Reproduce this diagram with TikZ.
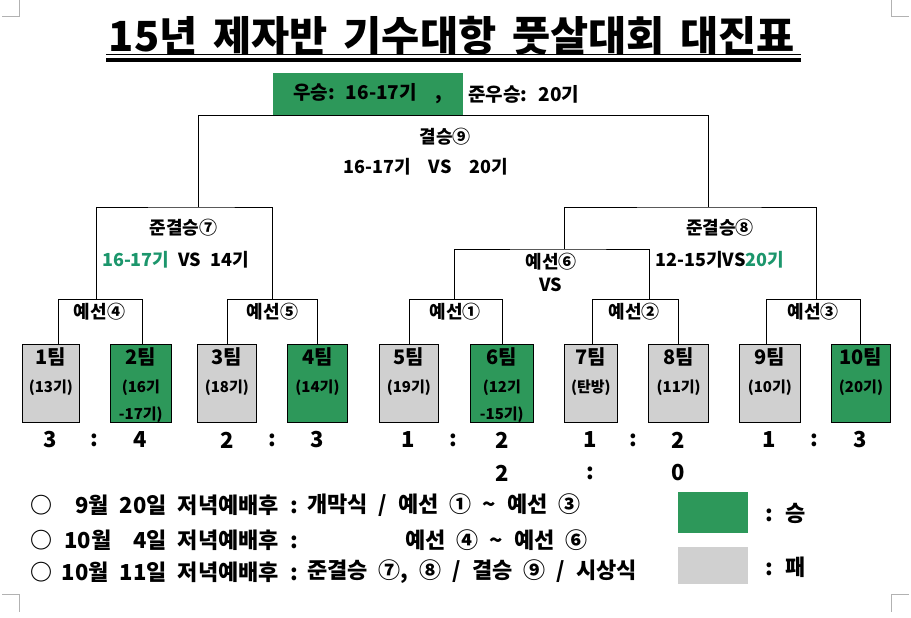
\documentclass[tikz,border=0pt]{standalone}
\usepackage{fontspec}
\setmainfont{Noto Sans CJK KR}
\usetikzlibrary{positioning,calc}
\definecolor{wingreen}{RGB}{45,152,90}
\definecolor{losegray}{RGB}{208,208,208}
\definecolor{tealtext}{RGB}{28,150,108}
\newcommand{\fsz}[1]{\fontsize{#1}{#1}\selectfont\bfseries\spaceskip=.5em\relax}
\tikzset{
  team/.style={draw=black, line width=1pt, minimum height=78pt, inner sep=0pt},
  teamname/.style={font=\fsz{20}, inner sep=0pt},
  teamsub/.style={font=\fsz{15}, inner sep=0pt, align=center},
  score/.style={font=\fsz{22}, inner sep=0pt},
  match/.style={font=\fsz{18}, inner sep=0pt},
  bracket/.style={draw=black, line width=1pt},
  note/.style={font=\fsz{22}, inner sep=0pt},
  keybox/.style={minimum width=70pt, inner sep=0pt},
  crop/.style={draw=black!30, line width=0.7pt}
}

\begin{document}
\begin{tikzpicture}[x=1pt,y=-1pt]
\useasboundingbox (0,0) rectangle (911,618);
% ---- page corners ----
\draw[crop] (2,16) -- (19,16) -- (19,0);
\draw[crop] (909,16) -- (891,16) -- (891,0);
\draw[crop] (2,594) -- (19,594) -- (19,612);
\draw[crop] (909,594) -- (891,594) -- (891,612);
% ---- title ----
\node[font={\fsz{41.5}\spaceskip=.38em\relax}, inner sep=0pt] (title) at (452,35.5) {15년 제자반 기수대항 풋살대회 대진표};
\draw[line width=1.6pt] (106,54.5) -- (801,54.5);
\draw[line width=3.5pt] (106,60) -- (801,60);
% ---- result ----
\node[fill=wingreen, minimum width=190pt, minimum height=42pt, inner sep=0pt, font=\fsz{19}] (champ) at (368,94) {우승: 16-17기~~,};
\node[font=\fsz{19}, inner sep=0pt, right=5pt of champ] (runner) {준우승: 20기};
% ---- final ----
\coordinate (fl) at (198,207);
\coordinate (fr) at (708,207);
\draw[bracket] (fl) |- (champ.south) -| (fr);
\node[match] (m9) at (445,137) {결승⑨};
\node[match] (m9vs) at (426,167) {16-17기~~VS~~20기};
% ---- semifinal 7 ----
\coordinate (s7l) at (96,299);
\coordinate (s7r) at (272,299);
\draw[bracket] (s7l) |- (fl) -| (s7r);
\node[match] (m7) at (183.5,228) {준결승⑦};
\node[match] (m7vs) at (175.5,260) {\textcolor{tealtext}{16-17기} VS 14기};
% ---- semifinal 8 ----
\coordinate (s8l) at (564,249);
\coordinate (s8r) at (816,299);
\draw[bracket] (s8l) |- (fr) -| (s8r);
\node[match] (m8) at (720,228) {준결승⑧};
\node[match] (m8vs) at (720,260) {12-15기VS\textcolor{tealtext}{20기}};
% ---- prelim 6 ----
\coordinate (q6l) at (454,299);
\coordinate (q6r) at (649,299);
\draw[bracket] (q6l) |- (s8l) -| (q6r);
\node[match] (m6) at (551,262) {예선⑥};
\node[match] (m6vs) at (551,285) {VS};
% ---- teams ----
\node[team, fill=losegray, minimum width=57pt] (t1) at (50.8,383) {};
\node[team, fill=wingreen, minimum width=61pt] (t2) at (140.8,383) {};
\node[team, fill=losegray, minimum width=59pt] (t3) at (226.8,383) {};
\node[team, fill=wingreen, minimum width=60pt] (t4) at (317.5,383) {};
\node[team, fill=losegray, minimum width=59pt] (t5) at (408.8,383) {};
\node[team, fill=wingreen, minimum width=63pt] (t6) at (501.8,383) {};
\node[team, fill=losegray, minimum width=53pt] (t7) at (590.8,383) {};
\node[team, fill=losegray, minimum width=60pt] (t8) at (678.7,383) {};
\node[team, fill=losegray, minimum width=61pt] (t9) at (769.8,383) {};
\node[team, fill=wingreen, minimum width=59pt] (t10) at (861,383) {};
\node[teamname] (t1n) at (t1 |- 0,357) {1팀};
\node[teamname] (t2n) at (t2 |- 0,357) {2팀};
\node[teamname] (t3n) at (t3 |- 0,357) {3팀};
\node[teamname] (t4n) at (t4 |- 0,357) {4팀};
\node[teamname] (t5n) at (t5 |- 0,357) {5팀};
\node[teamname] (t6n) at (t6 |- 0,357) {6팀};
\node[teamname] (t7n) at (t7 |- 0,357) {7팀};
\node[teamname] (t8n) at (t8 |- 0,357) {8팀};
\node[teamname] (t9n) at (t9 |- 0,357) {9팀};
\node[teamname] (t10n) at (t10 |- 0,357) {10팀};
\node[teamsub] (t1s) at (t1 |- 0,388) {(13기)};
\node[teamsub, anchor=north] (t2s) at (t2 |- 0,380) {(16기\\[10pt]-17기)};
\node[teamsub] (t3s) at (t3 |- 0,388) {(18기)};
\node[teamsub] (t4s) at (t4 |- 0,388) {(14기)};
\node[teamsub] (t5s) at (t5 |- 0,388) {(19기)};
\node[teamsub, anchor=north] (t6s) at (t6 |- 0,380) {(12기\\[10pt]-15기)};
\node[teamsub] (t7s) at (t7 |- 0,388) {(탄방)};
\node[teamsub] (t8s) at (t8 |- 0,388) {(11기)};
\node[teamsub] (t9s) at (t9 |- 0,388) {(10기)};
\node[teamsub] (t10s) at (t10 |- 0,388) {(20기)};
% ---- prelims 1-5 ----
\coordinate (r4l) at (58,299);
\coordinate (r4r) at (142,299);
\draw[bracket] (t1.north -| r4l) -- (r4l) -- (r4r) -- (t2.north -| r4r);
\coordinate (r5l) at (227,299);
\coordinate (r5r) at (317,299);
\draw[bracket] (t3.north -| r5l) -- (r5l) -- (r5r) -- (t4.north -| r5r);
\coordinate (r1l) at (409,299);
\coordinate (r1r) at (502,299);
\draw[bracket] (t5.north -| r1l) -- (r1l) -- (r1r) -- (t6.north -| r1r);
\coordinate (r2l) at (592,299);
\coordinate (r2r) at (678,299);
\draw[bracket] (t7.north -| r2l) -- (r2l) -- (r2r) -- (t8.north -| r2r);
\coordinate (r3l) at (766,299);
\coordinate (r3r) at (860,299);
\draw[bracket] (t9.north -| r3l) -- (r3l) -- (r3r) -- (t10.north -| r3r);
\node[match] (m4) at (99.5,312) {예선④};
\node[match] (m5) at (272.5,312) {예선⑤};
\node[match] (m1) at (455,312) {예선①};
\node[match] (m2) at (634,312) {예선②};
\node[match] (m3) at (813,312) {예선③};
% ---- scores ----
\node[score] (sc1) at (50,440) {3};
\node[score] (c4) at (94,440) {:};
\node[score] (sc2) at (140,440) {4};
\node[score] (sc3) at (227,440) {2};
\node[score] (c5) at (272,440) {:};
\node[score] (sc4) at (317,440) {3};
\node[score] (sc5) at (408,440) {1};
\node[score] (c1) at (453,440) {:};
\node[score] (sc6) at (502,440) {2};
\node[score] (sc7) at (590,440) {1};
\node[score] (c2) at (633,440) {:};
\node[score] (sc8) at (678,440) {2};
\node[score] (sc9) at (769,440) {1};
\node[score] (c3) at (814,440) {:};
\node[score] (sc10) at (860,440) {3};
\node[score] (pk6) at (502,473) {2};
\node[score] (pkc) at (590,473) {:};
\node[score] (pk8) at (678,473) {0};
% ---- schedule ----
\node[note, anchor=west] (n1b) at (30,505) {○};
\node[note, anchor=east] (n1d) at (298,505) {9월 20일 저녁예배후 :};
\node[note, anchor=west] (n1e) at (307,505) {개막식 / 예선 ① \textasciitilde{} 예선 ③};
\node[note, anchor=west] (n2b) at (30,540) {○};
\node[note, anchor=east] (n2d) at (298,540) {10월~~4일 저녁예배후 :};
\node[note, anchor=west] (n2e) at (405,540) {예선 ④ \textasciitilde{} 예선 ⑥};
\node[note, anchor=west] (n3b) at (30,572) {○};
\node[note, anchor=east] (n3d) at (298,572) {10월 11일 저녁예배후 :};
\node[note, anchor=west] (n3e) at (307,572) {준결승 ⑦, ⑧ / 결승 ⑨ / 시상식};
% ---- key ----
\node[keybox, fill=wingreen, minimum height=41pt] (keywin) at (713,512.5) {};
\node[keybox, fill=losegray, minimum height=37pt] (keylose) at (713,565.5) {};
\node[note, anchor=west] (keywint) at (765,513) {: 승};
\node[note, anchor=west] (keyloset) at (765,567) {: 패};
\end{tikzpicture}
\end{document}
